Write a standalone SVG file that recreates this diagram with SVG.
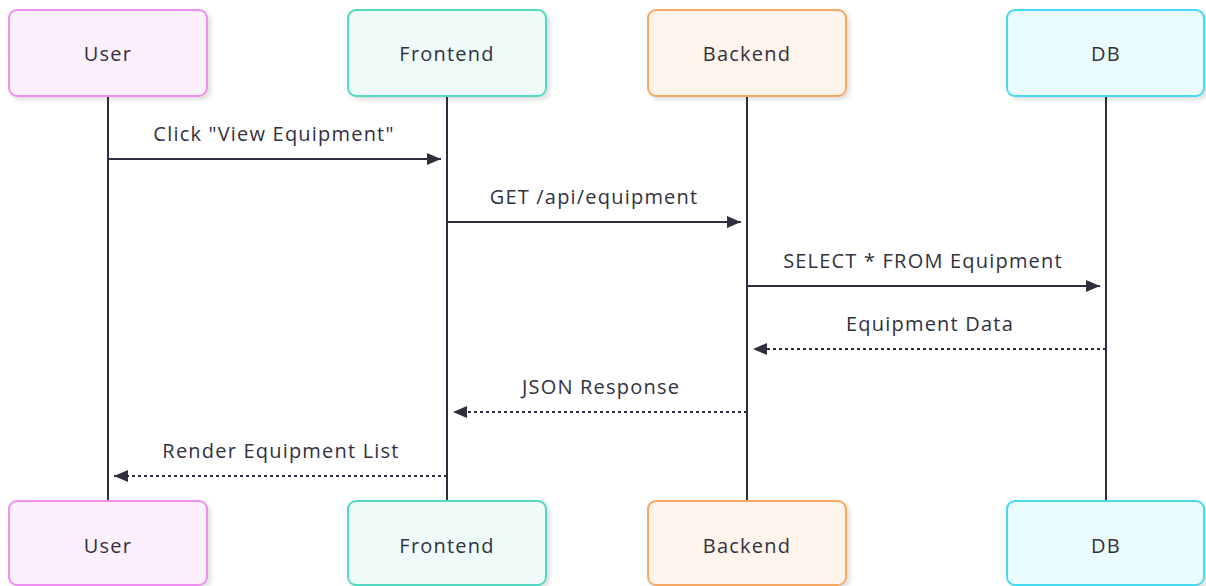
<svg xmlns="http://www.w3.org/2000/svg" width="1206" height="586" viewBox="0 0 1206 586">
  <style>
    .box { stroke-width: 2; }
    .lbl { font-family: "Open Sans", "Noto Sans", "DejaVu Sans", sans-serif; font-size: 20px; letter-spacing: 1.2px; fill: #32313f; text-anchor: middle; }
    .life { stroke: #2f2e3f; stroke-width: 2; fill: none; }
    .msg { stroke: #2f2e3f; stroke-width: 2; fill: none; }
    .dash { stroke-dasharray: 3 3; }
    .user { fill: #fdf0fd; stroke: #f08ef0; }
    .fe { fill: #eefbf8; stroke: #52d9c1; }
    .be { fill: #fef4ec; stroke: #f8a762; }
    .db { fill: #ebfcfe; stroke: #47d9f0; }
  </style>
  <defs>
    <marker id="arrow" viewBox="0 0 14 12" refX="14" refY="6" markerWidth="14" markerHeight="12" markerUnits="userSpaceOnUse" orient="auto">
      <path d="M0,0 L14,6 L0,12 Z" fill="#2f2e3f"/>
    </marker>
    <filter id="shadow" x="-10%" y="-10%" width="130%" height="140%">
      <feDropShadow dx="3" dy="3" stdDeviation="2" flood-color="#000" flood-opacity="0.12"/>
    </filter>
  </defs>
  <rect width="1206" height="586" fill="#ffffff"/>

  <!-- lifelines -->
  <g id="lifelines">
    <line class="life" x1="108" y1="96" x2="108" y2="501"/>
    <line class="life" x1="447" y1="96" x2="447" y2="501"/>
    <line class="life" x1="747" y1="96" x2="747" y2="501"/>
    <line class="life" x1="1106" y1="96" x2="1106" y2="501"/>
  </g>

  <!-- participants, top row -->
  <g id="user-top">
    <rect class="box user" x="9" y="10" width="198" height="86" rx="8" filter="url(#shadow)"/>
    <text class="lbl" x="108" y="61">User</text>
  </g>
  <g id="frontend-top">
    <rect class="box fe" x="348" y="10" width="198" height="86" rx="8" filter="url(#shadow)"/>
    <text class="lbl" x="447" y="61">Frontend</text>
  </g>
  <g id="backend-top">
    <rect class="box be" x="648" y="10" width="198" height="86" rx="8" filter="url(#shadow)"/>
    <text class="lbl" x="747" y="61">Backend</text>
  </g>
  <g id="db-top">
    <rect class="box db" x="1007" y="10" width="197" height="86" rx="8" filter="url(#shadow)"/>
    <text class="lbl" x="1106" y="61">DB</text>
  </g>

  <!-- participants, bottom row -->
  <g id="user-bottom">
    <rect class="box user" x="9" y="501" width="198" height="84" rx="8" filter="url(#shadow)"/>
    <text class="lbl" x="108" y="553">User</text>
  </g>
  <g id="frontend-bottom">
    <rect class="box fe" x="348" y="501" width="198" height="84" rx="8" filter="url(#shadow)"/>
    <text class="lbl" x="447" y="553">Frontend</text>
  </g>
  <g id="backend-bottom">
    <rect class="box be" x="648" y="501" width="198" height="84" rx="8" filter="url(#shadow)"/>
    <text class="lbl" x="747" y="553">Backend</text>
  </g>
  <g id="db-bottom">
    <rect class="box db" x="1007" y="501" width="197" height="84" rx="8" filter="url(#shadow)"/>
    <text class="lbl" x="1106" y="553">DB</text>
  </g>

  <!-- messages -->
  <g id="connectors">
    <line class="msg" x1="108" y1="159" x2="441" y2="159" marker-end="url(#arrow)"/>
    <text class="lbl" x="274" y="141">Click "View Equipment"</text>

    <line class="msg" x1="447" y1="222" x2="741" y2="222" marker-end="url(#arrow)"/>
    <text class="lbl" x="594" y="204">GET /api/equipment</text>

    <line class="msg" x1="747" y1="286" x2="1100" y2="286" marker-end="url(#arrow)"/>
    <text class="lbl" x="923" y="268">SELECT * FROM Equipment</text>

    <line class="msg dash" x1="1106" y1="349" x2="753" y2="349" marker-end="url(#arrow)"/>
    <text class="lbl" x="930" y="331">Equipment Data</text>

    <line class="msg dash" x1="747" y1="412" x2="453" y2="412" marker-end="url(#arrow)"/>
    <text class="lbl" x="601" y="394">JSON Response</text>

    <line class="msg dash" x1="447" y1="476" x2="114" y2="476" marker-end="url(#arrow)"/>
    <text class="lbl" x="281" y="458">Render Equipment List</text>
  </g>
</svg>
